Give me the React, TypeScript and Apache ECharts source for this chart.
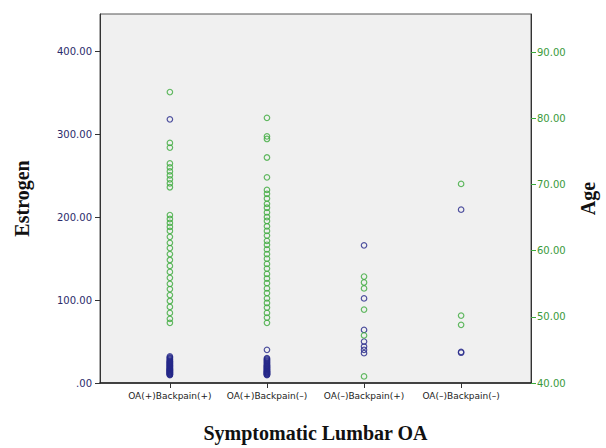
import React, { useEffect, useRef } from 'react';
import * as echarts from 'echarts';

const categories = ['OA(+)Backpain(+)', 'OA(+)Backpain(–)', 'OA(–)Backpain(+)', 'OA(–)Backpain(–)'];

// Estrogen (left axis) values per group
const estrogenG1 = [318, 32, 31, 30, 29, 28, 27, 26, 25.5, 25, 24, 23.5, 23, 22, 21.5, 21, 20, 19.5, 19, 18, 17.5, 17, 16.5, 16, 15.5, 15, 14.5, 14, 13.5, 13, 12.5, 12, 11.5, 11, 10.5, 10, 9.5];
const estrogenG2 = [40, 30, 29, 28, 27, 26, 25, 24, 23, 22, 21, 20.5, 20, 19, 18.5, 18, 17, 16.5, 16, 15, 14.5, 14, 13.5, 13, 12.5, 12, 11.5, 11, 10.5, 10, 9.5];
const estrogenG3 = [166, 102, 64, 50, 44, 40, 36];
const estrogenG4 = [209, 37.5, 36.5];

// Age (right axis) values per group
const ageG1 = [84.0, 76.3, 75.6, 73.2, 72.6, 72.0, 71.4, 70.8, 70.2, 69.6, 65.4, 64.8, 64.2, 63.6, 63.0, 62.1, 61.2, 60.4, 59.5, 58.6, 57.7, 56.8, 55.9, 55.0, 54.2, 53.3, 52.4, 51.5, 50.6, 49.7, 49.1];
const ageG2 = [80.1, 77.3, 76.9, 74.1, 71.1, 69.2, 68.6, 67.9, 67.1, 66.5, 65.8, 65.1, 64.5, 63.7, 63.0, 62.3, 61.5, 60.9, 60.2, 59.5, 58.8, 58.0, 57.3, 56.5, 55.8, 55.1, 54.3, 53.6, 52.8, 52.1, 51.4, 50.6, 49.9, 49.1];
const ageG3 = [56.1, 55.2, 54.3, 51.1, 47.2, 41.0];
const ageG4 = [70.1, 50.2, 48.8];

const leftTicks = [0, 100, 200, 300, 400];
const rightTicks = [40, 50, 60, 70, 80, 90];
const xTicks = [1, 2, 3, 4];

const BLUE = '#25288a';
const GREEN = '#3caa3c';

export default function App() {
  const ref = useRef<HTMLDivElement>(null);
  useEffect(() => {
    const chart = echarts.init(ref.current!, null, { renderer: 'svg' });
    const estrogenData = [estrogenG1, estrogenG2, estrogenG3, estrogenG4].flatMap((arr, i) => arr.map((v) => [i + 1, v]));
    const ageData = [ageG1, ageG2, ageG3, ageG4].flatMap((arr, i) => arr.map((v) => [i + 1, v]));
    const titleStyle = { fontFamily: 'Liberation Serif', fontWeight: 'bold', fontSize: 20, color: '#111' };
    chart.setOption({
      animation: false,
      backgroundColor: '#ffffff',
      grid: { left: 100, right: 56, top: 14, bottom: 55, show: true, backgroundColor: '#f0f0f0', borderColor: '#555', borderWidth: 1 },
      xAxis: {
        type: 'value',
        min: 0.28,
        max: 4.72,
        axisLine: { show: true, lineStyle: { color: '#222', width: 1.5 } },
        axisTick: { show: true, customValues: xTicks, length: 5, lineStyle: { color: '#333' } },
        axisLabel: {
          customValues: xTicks,
          formatter: (v: number) => categories[Math.round(v) - 1] ?? '',
          fontFamily: 'DejaVu Sans',
          fontSize: 9,
          color: '#222',
          margin: 8,
        },
        splitLine: { show: false },
        name: 'Symptomatic Lumbar OA',
        nameLocation: 'middle',
        nameGap: 40,
        nameTextStyle: titleStyle,
      },
      yAxis: [
        {
          type: 'value',
          min: 0,
          max: 445,
          position: 'left',
          axisLine: { show: true, lineStyle: { color: '#333' } },
          axisTick: { show: true, customValues: leftTicks, length: 5, lineStyle: { color: '#333' } },
          axisLabel: {
            customValues: leftTicks,
            formatter: (v: number) => (v === 0 ? '.00' : v.toFixed(2)),
            color: '#2b2b6b',
            fontFamily: 'DejaVu Sans',
            fontSize: 10,
            margin: 8,
          },
          splitLine: { show: false },
          name: 'Estrogen',
          nameLocation: 'middle',
          nameRotate: 90,
          nameGap: 68,
          nameTextStyle: titleStyle,
        },
        {
          type: 'value',
          min: 40,
          max: 95.8,
          position: 'right',
          axisLine: { show: true, lineStyle: { color: '#333' } },
          axisTick: { show: true, customValues: rightTicks, length: 5, lineStyle: { color: GREEN } },
          axisLabel: {
            customValues: rightTicks,
            formatter: (v: number) => v.toFixed(2),
            color: '#3a9a3a',
            fontFamily: 'DejaVu Sans',
            fontSize: 10,
            margin: 6,
          },
          splitLine: { show: false },
          name: 'Age',
          nameLocation: 'middle',
          nameRotate: 90,
          nameGap: 47,
          nameTextStyle: titleStyle,
        },
      ],
      series: [
        {
          type: 'scatter',
          name: 'Estrogen',
          yAxisIndex: 0,
          data: estrogenData,
          symbol: 'circle',
          symbolSize: 5.5,
          itemStyle: { color: 'transparent', borderColor: BLUE, borderWidth: 1.2 },
        },
        {
          type: 'scatter',
          name: 'Age',
          yAxisIndex: 1,
          data: ageData,
          symbol: 'circle',
          symbolSize: 5.5,
          itemStyle: { color: 'transparent', borderColor: GREEN, borderWidth: 1.2 },
        },
      ],
    });
    return () => chart.dispose();
  }, []);
  return <div ref={ref} style={{ position: 'absolute', left: 0, top: 0, width: 606, height: 448 }} />;
}
